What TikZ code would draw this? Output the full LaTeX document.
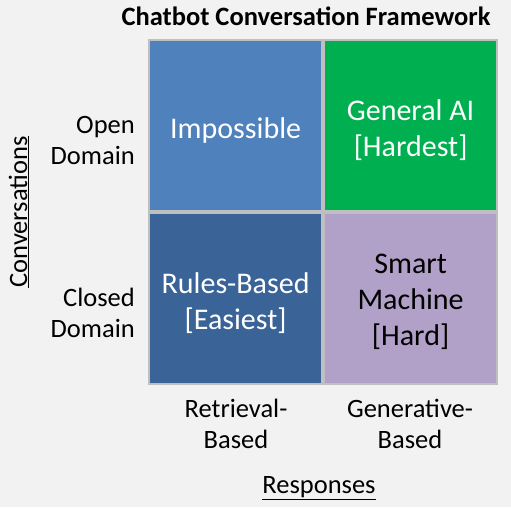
\documentclass[tikz,border=0pt]{standalone}
\usepackage{fontspec}
\setmainfont{Carlito}
\usetikzlibrary{positioning}
\definecolor{PageGray}{RGB}{242, 242, 242}
\definecolor{EdgeGray}{RGB}{191, 191, 191}
\definecolor{OpenBlue}{RGB}{79, 129, 189}
\definecolor{ClosedBlue}{RGB}{58, 99, 152}
\definecolor{GenGreen}{RGB}{0, 176, 80}
\definecolor{SmartLilac}{RGB}{177, 160, 199}
\tikzset{
  cell/.style={draw=EdgeGray, line width=2.2pt, minimum width=172.8pt, minimum height=170.8pt,
    inner sep=0pt},
  celltext/.style={align=center, inner sep=0pt, font=\fontsize{30}{36}\selectfont},
  axislabel/.style={align=center, inner sep=0pt, font=\fontsize{26.5}{31}\selectfont},
  axistitle/.style={inner sep=0pt, font=\fontsize{26.5}{30}\selectfont}
}

\begin{document}
\begin{tikzpicture}[x=1pt, y=-1pt]
    \fill[PageGray] (0,0) rectangle (511,507);
    \useasboundingbox (0,0) rectangle (511,507);

    \node[axistitle, font=\fontsize{26.5}{30}\selectfont\bfseries] (title) at (306,16) {Chatbot Conversation Framework};

    % the four quadrants
    \node[cell, fill=OpenBlue, anchor=north west] (impossible) at (148.1,39.1) {};
    \node[cell, fill=GenGreen, right=0pt of impossible] (generalai) {};
    \node[cell, fill=ClosedBlue, below=0pt of impossible] (rules) {};
    \node[cell, fill=SmartLilac, right=0pt of rules] (smart) {};

    \node[celltext, text=white] (impossibletext) at ([yshift=-5pt]impossible.center) {Impossible};
    \node[celltext, text=white] (generalaitext) at ([yshift=-5pt]generalai.center) {General AI\\{}[Hardest]};
    \node[celltext, text=white] (rulestext) at ([yshift=-5pt]rules.center) {Rules-Based\\{}[Easiest]};
    \node[celltext, text=black] (smarttext) at ([yshift=-3pt]smart.center) {Smart\\Machine\\{}[Hard]};

    % row and column labels
    \node[axislabel, align=right, anchor=east] (open) at (135,140.5) {Open\\Domain};
    \node[axislabel, align=right, anchor=east] (closed) at (135,313) {Closed\\Domain};
    \node[axislabel] (retrieval) at (236,424) {Retrieval-\\Based};
    \node[axislabel] (generative) at (410,424) {Generative-\\Based};

    \node[axistitle, rotate=90] (conversations) at (19,212) {\underline{Conversations}};
    \node[axistitle] (responses) at (319,488) {\underline{Responses}};
\end{tikzpicture}
\end{document}
